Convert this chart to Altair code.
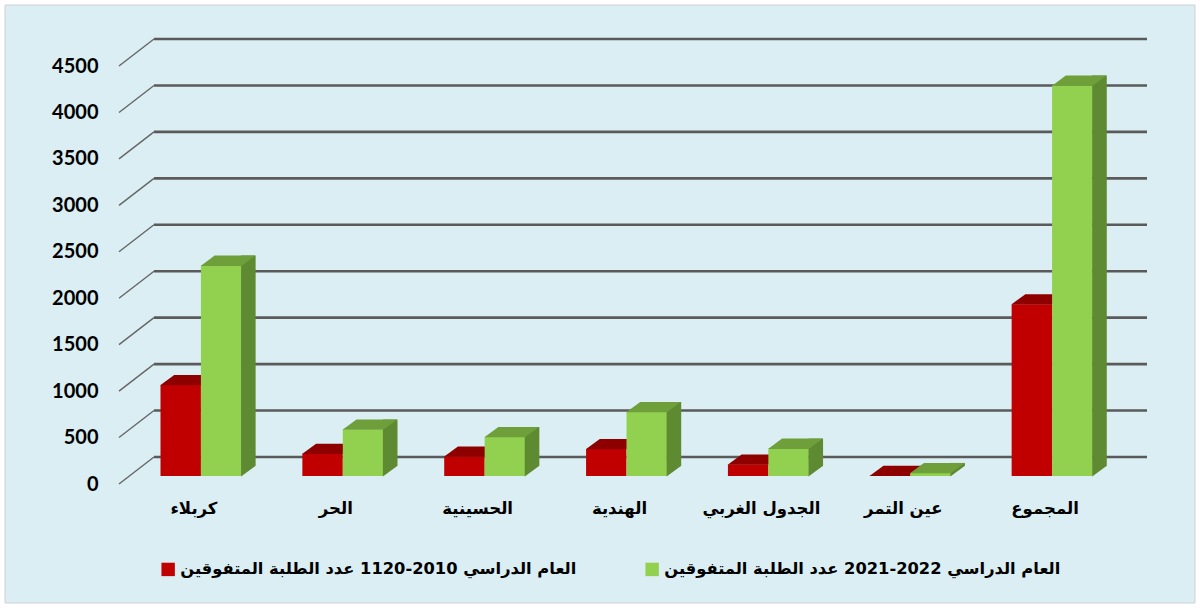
import altair as alt
import pandas as pd

# ---------------- data ----------------
categories = ["كربلاء", "الحر", "الحسينية", "الهندية", "الجدول الغربي", "عين التمر", "المجموع"]
series_2010 = "العام الدراسي  2010-1120 عدد الطلبة المتفوقين"
series_2021 = "العام الدراسي  2022-2021 عدد الطلبة المتفوقين"
values_2010 = [980, 240, 210, 290, 125, 4, 1850]
values_2021 = [2265, 500, 420, 690, 295, 33, 4203]
y_ticks = [0, 500, 1000, 1500, 2000, 2500, 3000, 3500, 4000, 4500]

series_order = [series_2010, series_2021]
rows = []
for c, a, b in zip(categories, values_2010, values_2021):
    rows.append({"cat": c, "series": series_2010, "value": a})
    rows.append({"cat": c, "series": series_2021, "value": b})
df = pd.DataFrame(rows)
grid_df = pd.DataFrame({"value": y_ticks})
frame_df = pd.DataFrame({"k": [0]})

# ---------------- styles ----------------
RED_FRONT, RED_TOP = "#C00000", "#8E0000"
GREEN_FRONT, GREEN_TOP, GREEN_SIDE = "#92D050", "#6F9F3B", "#5E8A31"
BG = "#DAEEF3"
ARABIC_FONT = "DejaVu Sans"

HW = 20.2   # half bar width (px)
DX, DY = 14, 10  # depth offset of the bars
top_path = f"M {-HW-0.3} 0.3 L {HW} 0.3 L {HW+DX} {-DY} L {-HW+DX-0.3} {-DY} Z"
side_tri_path = f"M {HW-0.3} {-DY} L {HW-0.3} 0.4 L {HW+DX} {-DY} Z"

x_axis = alt.Axis(title=None, domain=False, ticks=False, tickSize=0, grid=False,
                  labelAngle=0, labelFont=ARABIC_FONT, labelFontSize=16.5,
                  labelFontWeight="bold", labelColor="black", labelPadding=24,
                  labelOffset=-7, labelBaseline="top", zindex=2)
y_axis = alt.Axis(title=None, domain=False, ticks=False, tickSize=0, grid=False,
                  values=y_ticks, format="d", labelFont="Lato", labelFontSize=20,
                  labelFontWeight="bold", labelColor="black", labelPadding=32,
                  labelOffset=8, zindex=2)

x_scale = alt.Scale(paddingInner=0.43, paddingOuter=0.215)
y_scale = alt.Scale(domain=[0, 4500], nice=False, zero=True)
xo_scale = alt.Scale(domain=series_order, paddingInner=0, paddingOuter=0)

X = alt.X("cat:N", sort=categories, scale=x_scale, axis=x_axis)
XO = alt.XOffset("series:N", sort=series_order, scale=xo_scale)
Y = alt.Y("value:Q", scale=y_scale, axis=y_axis)
color = alt.Color(
    "series:N",
    scale=alt.Scale(domain=series_order, range=[RED_FRONT, GREEN_FRONT]),
    legend=alt.Legend(orient="none", legendX=30, legendY=503, direction="horizontal",
                      title=None, symbolType="square", symbolSize=180,
                      symbolStrokeWidth=0, labelFont=ARABIC_FONT, labelFontSize=16.3,
                      labelFontWeight="bold", labelColor="black", labelLimit=600,
                      columnPadding=62, zindex=2),
)

base = alt.Chart(df)
red = base.transform_filter(alt.datum.series == series_2010)
green = base.transform_filter(alt.datum.series == series_2021)

frame = alt.Chart(frame_df).mark_rect(fill=BG, stroke="#D0D0D0", strokeWidth=1).encode(
    x=alt.value(-125), x2=alt.value(1065), y=alt.value(-53), y2=alt.value(545)
)

grid_back = alt.Chart(grid_df).mark_rule(color="#5A5A5A", strokeWidth=2.6, yOffset=-19).encode(
    y=Y, x=alt.value(24), x2=alt.value(1017)
)
grid_diag = alt.Chart(grid_df).mark_rule(color="#666666", strokeWidth=1.4,
                                        yOffset=8, y2Offset=-19).encode(
    y=Y, y2=alt.Y2("value"), x=alt.value(-11), x2=alt.value(24)
)

red_front = red.mark_bar().encode(x=X, xOffset=XO, y=Y, color=color)
red_top = red.mark_point(shape=top_path, size=4, filled=True, opacity=1,
                         color=RED_TOP, strokeWidth=0).encode(x=X, xOffset=XO, y=Y)
green_front = green.mark_bar().encode(x=X, xOffset=XO, y=Y, color=color)
# side face of the green bar: centred on the group, shifted right by one bar width + half depth
green_side = green.mark_bar(width=DX + 0.6, xOffset=2 * HW + DX / 2, yOffset=-DY,
                            y2Offset=-DY, color=GREEN_SIDE).encode(
    x=X, y=Y, y2=alt.datum(0)
)
green_side_tri = green.mark_point(shape=side_tri_path, size=4, filled=True, opacity=1,
                                  color=GREEN_SIDE, strokeWidth=0).encode(
    x=X, xOffset=XO, y=alt.datum(0, scale=y_scale, axis=y_axis)
)
green_top = green.mark_point(shape=top_path, size=4, filled=True, opacity=1,
                             color=GREEN_TOP, strokeWidth=0).encode(x=X, xOffset=XO, y=Y)

chart = alt.layer(
    frame, grid_back, grid_diag, red_front, red_top, green_front, green_side,
    green_side_tri, green_top
).properties(
    width=993, height=418,
    autosize=alt.AutoSizeParams(type="none"),
    padding={"left": 130, "top": 58, "right": 77, "bottom": 132},
).configure(background="white").configure_view(stroke=None)

chart.save("out.html", embed_options={"renderer": "svg", "actions": False})
